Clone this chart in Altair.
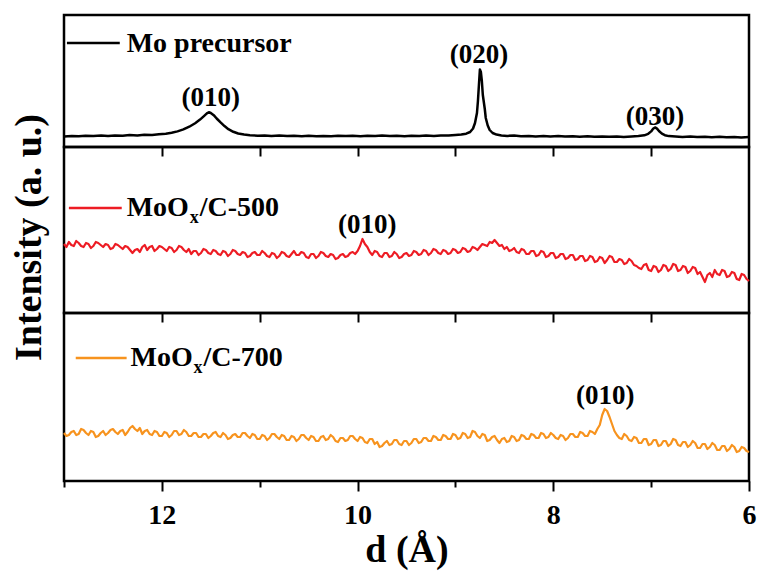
import altair as alt
import pandas as pd

FONT = "Liberation Serif"
X_DOMAIN = [13, 6]
PLOT_W = 685

# ---- Mo precursor (d in Å, intensity in a.u.) ----
MO_D = [13.00, 12.92, 12.85, 12.78, 12.70, 12.62, 12.55, 12.48, 12.40, 12.33,
        12.25, 12.18, 12.10, 12.03, 11.96, 11.90, 11.84, 11.78, 11.72, 11.66,
        11.61, 11.57, 11.54, 11.52, 11.50, 11.47, 11.44, 11.40, 11.36, 11.32,
        11.27, 11.22, 11.16, 11.10, 11.02, 10.95, 10.88, 10.80, 10.72, 10.65,
        10.57, 10.50, 10.42, 10.35, 10.27, 10.20, 10.12, 10.05, 9.97, 9.90,
        9.82, 9.75, 9.67, 9.60, 9.52, 9.45, 9.37, 9.30, 9.22, 9.15,
        9.07, 9.00, 8.94, 8.89, 8.85, 8.82, 8.80, 8.78, 8.77, 8.76,
        8.75, 8.74, 8.73, 8.72, 8.70, 8.69, 8.67, 8.65, 8.62, 8.58,
        8.53, 8.47, 8.40, 8.33, 8.25, 8.18, 8.10, 8.03, 7.95, 7.88,
        7.80, 7.73, 7.65, 7.58, 7.50, 7.43, 7.35, 7.28, 7.20, 7.13,
        7.07, 7.03, 7.00, 6.98, 6.96, 6.94, 6.92, 6.89, 6.86, 6.82,
        6.75, 6.68, 6.60, 6.53, 6.45, 6.38, 6.30, 6.23, 6.15, 6.08, 6.00]
MO_I = [10.6, 11.1, 10.7, 11.3, 10.9, 11.4, 11.0, 11.6, 11.2, 11.9,
        11.5, 12.2, 12.0, 12.7, 13.3, 14.2, 15.6, 17.6, 20.3, 23.8,
        27.4, 30.9, 33.6, 34.8, 34.0, 31.8, 28.5, 24.6, 20.9, 17.8,
        15.2, 13.5, 12.4, 11.8, 11.3, 11.6, 11.0, 11.4, 10.9, 11.3,
        10.8, 11.2, 10.7, 11.1, 10.8, 11.3, 10.9, 11.2, 10.8, 11.3,
        10.9, 11.4, 11.0, 11.3, 10.8, 11.2, 11.0, 11.5, 11.1, 11.6,
        11.4, 11.9, 12.4, 13.3, 15.0, 18.5, 24.0, 34.0, 46.0, 62.0,
        77.5, 75.0, 66.0, 52.0, 38.0, 29.0, 21.5, 17.0, 14.0, 12.4,
        11.6, 11.1, 11.4, 10.8, 11.1, 10.6, 11.0, 10.5, 10.9, 10.4,
        10.8, 10.3, 10.7, 10.2, 10.6, 10.2, 10.5, 10.1, 10.6, 10.9,
        11.7, 13.2, 15.6, 18.2, 19.6, 18.4, 16.0, 13.3, 11.8, 10.9,
        10.5, 10.0, 10.4, 9.9, 10.3, 9.8, 10.2, 9.7, 10.1, 9.6, 10.0]

# ---- sampling grid shared by the two MoOx/C patterns (d in Å) ----
GRID_D = [
    13.000, 12.975, 12.950, 12.925, 12.900, 12.875, 12.850, 12.825, 12.800, 12.775,
    12.750, 12.725, 12.700, 12.675, 12.650, 12.625, 12.600, 12.575, 12.550, 12.525,
    12.500, 12.475, 12.450, 12.425, 12.400, 12.375, 12.350, 12.325, 12.300, 12.275,
    12.250, 12.225, 12.200, 12.175, 12.150, 12.125, 12.100, 12.075, 12.050, 12.025,
    12.000, 11.975, 11.950, 11.925, 11.900, 11.875, 11.850, 11.825, 11.800, 11.775,
    11.750, 11.725, 11.700, 11.675, 11.650, 11.625, 11.600, 11.575, 11.550, 11.525,
    11.500, 11.475, 11.450, 11.425, 11.400, 11.375, 11.350, 11.325, 11.300, 11.275,
    11.250, 11.225, 11.200, 11.175, 11.150, 11.125, 11.100, 11.075, 11.050, 11.025,
    11.000, 10.975, 10.950, 10.925, 10.900, 10.875, 10.850, 10.825, 10.800, 10.775,
    10.750, 10.725, 10.700, 10.675, 10.650, 10.625, 10.600, 10.575, 10.550, 10.525,
    10.500, 10.475, 10.450, 10.425, 10.400, 10.375, 10.350, 10.325, 10.300, 10.275,
    10.250, 10.225, 10.200, 10.175, 10.150, 10.125, 10.100, 10.075, 10.050, 10.025,
    10.000, 9.975, 9.950, 9.925, 9.900, 9.875, 9.850, 9.825, 9.800, 9.775,
    9.750, 9.725, 9.700, 9.675, 9.650, 9.625, 9.600, 9.575, 9.550, 9.525,
    9.500, 9.475, 9.450, 9.425, 9.400, 9.375, 9.350, 9.325, 9.300, 9.275,
    9.250, 9.225, 9.200, 9.175, 9.150, 9.125, 9.100, 9.075, 9.050, 9.025,
    9.000, 8.975, 8.950, 8.925, 8.900, 8.875, 8.850, 8.825, 8.800, 8.775,
    8.750, 8.725, 8.700, 8.675, 8.650, 8.625, 8.600, 8.575, 8.550, 8.525,
    8.500, 8.475, 8.450, 8.425, 8.400, 8.375, 8.350, 8.325, 8.300, 8.275,
    8.250, 8.225, 8.200, 8.175, 8.150, 8.125, 8.100, 8.075, 8.050, 8.025,
    8.000, 7.975, 7.950, 7.925, 7.900, 7.875, 7.850, 7.825, 7.800, 7.775,
    7.750, 7.725, 7.700, 7.675, 7.650, 7.625, 7.600, 7.575, 7.550, 7.525,
    7.500, 7.475, 7.450, 7.425, 7.400, 7.375, 7.350, 7.325, 7.300, 7.275,
    7.250, 7.225, 7.200, 7.175, 7.150, 7.125, 7.100, 7.075, 7.050, 7.025,
    7.000, 6.975, 6.950, 6.925, 6.900, 6.875, 6.850, 6.825, 6.800, 6.775,
    6.750, 6.725, 6.700, 6.675, 6.650, 6.625, 6.600, 6.575, 6.550, 6.525,
    6.500, 6.475, 6.450, 6.425, 6.400, 6.375, 6.350, 6.325, 6.300, 6.275,
    6.250, 6.225, 6.200, 6.175, 6.150, 6.125, 6.100, 6.075, 6.050, 6.025,
    6.000]

# MoOx/C-500, intensity (a.u.) on GRID_D
C500_I = [
    69, 66, 71, 68, 67, 72, 70, 67, 66, 70,
    69, 65, 67, 71, 70, 68, 66, 69, 68, 64,
    65, 69, 68, 66, 64, 67, 66, 63, 60, 63,
    64, 61, 66, 68, 63, 66, 67, 62, 64, 67,
    66, 64, 62, 66, 65, 61, 63, 67, 66, 63,
    61, 64, 59, 62, 62, 58, 60, 64, 63, 60,
    59, 63, 62, 59, 58, 62, 61, 57, 59, 63,
    62, 59, 58, 61, 60, 56, 57, 60, 61, 58,
    58, 62, 60, 57, 56, 60, 59, 55, 57, 61,
    60, 57, 56, 59, 62, 58, 58, 61, 60, 56,
    55, 59, 59, 55, 57, 61, 60, 57, 56, 59,
    58, 54, 55, 58, 59, 56, 57, 60, 61, 59,
    62, 67, 74, 69, 66, 61, 58, 62, 61, 57,
    56, 60, 60, 56, 57, 61, 59, 55, 56, 59,
    60, 57, 58, 62, 61, 58, 59, 63, 62, 58,
    60, 64, 63, 60, 59, 63, 62, 59, 60, 64,
    63, 60, 61, 65, 64, 61, 62, 66, 65, 63,
    66, 69, 68, 67, 71, 70, 73, 70, 67, 68,
    64, 66, 62, 63, 65, 61, 60, 64, 63, 59,
    59, 62, 62, 57, 58, 62, 61, 56, 57, 60,
    60, 55, 56, 59, 59, 54, 55, 58, 58, 53,
    54, 57, 57, 52, 53, 57, 56, 51, 52, 56,
    55, 50, 53, 57, 56, 51, 51, 54, 53, 49,
    50, 54, 52, 48, 47, 45, 44, 48, 49, 43,
    42, 47, 46, 41, 43, 48, 47, 42, 44, 49,
    48, 42, 43, 47, 46, 40, 42, 46, 45, 39,
    41, 36, 31, 38, 40, 36, 43, 39, 38, 43,
    42, 36, 37, 41, 40, 34, 33, 39, 38, 34,
    32]

# MoOx/C-700, intensity (a.u.) on GRID_D
C700_I = [
    48, 45, 46, 49, 50, 46, 47, 52, 51, 48,
    46, 50, 49, 44, 45, 48, 50, 46, 48, 51,
    52, 49, 47, 50, 51, 46, 49, 53, 55, 52,
    50, 53, 47, 50, 51, 47, 46, 50, 49, 45,
    45, 49, 48, 44, 46, 50, 50, 46, 47, 51,
    49, 45, 45, 48, 48, 44, 44, 47, 47, 43,
    45, 48, 49, 45, 44, 48, 46, 42, 43, 46,
    47, 44, 44, 48, 48, 45, 43, 47, 46, 42,
    42, 46, 45, 41, 43, 47, 47, 44, 42, 46,
    45, 41, 41, 45, 44, 40, 42, 46, 46, 43,
    41, 45, 44, 40, 40, 44, 45, 41, 42, 46,
    44, 40, 39, 43, 43, 40, 41, 45, 45, 42,
    40, 44, 43, 39, 38, 42, 42, 37, 39, 34,
    35, 38, 40, 36, 37, 41, 41, 37, 36, 40,
    40, 36, 38, 42, 42, 38, 39, 43, 43, 40,
    40, 45, 44, 41, 41, 46, 45, 42, 42, 47,
    46, 42, 43, 48, 47, 43, 44, 50, 49, 45,
    43, 47, 46, 40, 41, 44, 45, 41, 38, 42,
    43, 39, 40, 45, 44, 40, 41, 46, 45, 42,
    42, 47, 46, 43, 43, 48, 47, 43, 44, 48,
    46, 43, 42, 46, 45, 41, 43, 47, 47, 44,
    44, 49, 48, 45, 45, 50, 49, 47, 52, 56,
    66, 72, 70, 64, 57, 50, 46, 43, 42, 47,
    45, 41, 40, 44, 43, 38, 38, 42, 42, 36,
    37, 41, 41, 35, 36, 40, 40, 35, 37, 42,
    41, 36, 35, 39, 39, 34, 36, 40, 38, 33,
    33, 37, 37, 32, 34, 38, 36, 31, 31, 35,
    35, 30, 32, 36, 34, 29, 30, 34, 33, 30,
    29]

# ---- reflection labels: text, d position, intensity position ----
PEAKS_MO = (["(010)", "(020)", "(030)"], [11.50, 8.76, 6.96], [49, 92, 30])
PEAKS_500 = (["(010)"], [9.90], [88])
PEAKS_700 = (["(010)"], [7.47], [85])

COLORS = {"mo": "#000000", "c500": "#ed1c24", "c700": "#f7931e"}


def x_enc(axis):
    return alt.X("d:Q", scale=alt.Scale(domain=X_DOMAIN, nice=False, zero=False), axis=axis)


def y_enc(ymax, axis):
    return alt.Y("I:Q", scale=alt.Scale(domain=[0, ymax], nice=False, zero=False), axis=axis)


inner_axis = alt.Axis(values=[12, 11, 10, 9, 8, 7], orient="bottom", labels=False,
                      domain=False, grid=False, title=None, tickSize=9,
                      tickWidth=2, tickColor="#000")

bottom_axis = alt.Axis(values=[13, 12, 11, 10, 9, 8, 7, 6], orient="bottom",
                       domain=False, grid=False, title="d (Å)",
                       tickSize={"condition": {"test": "datum.value % 2 === 0", "value": 10},
                                 "value": 6},
                       tickWidth=2, tickColor="#000",
                       labelExpr="datum.value % 2 === 0 ? datum.label : ''",
                       labelFont=FONT, labelFontSize=28, labelFontWeight="bold",
                       labelColor="#000", labelPadding=10, labelFlush=False,
                       labelOverlap=False, titleFont=FONT, titleFontSize=38,
                       titleFontWeight="bold", titleColor="#000", titlePadding=2)

intensity_axis = alt.Axis(title="Intensity (a. u.)", labels=False, ticks=False,
                          domain=False, grid=False, titleFont=FONT, titleFontSize=38,
                          titleFontWeight="bold", titleColor="#000", titleAngle=270,
                          titleX=-35, titleY=90, titleAlign="center",
                          titleBaseline="middle")


def panel(d, inten, color, line_w, height, ymax, xaxis, yaxis, peaks, legend):
    xe = x_enc(xaxis)
    ye = y_enc(ymax, yaxis)
    df = pd.DataFrame({"d": d, "I": inten})
    layers = [alt.Chart(df).mark_line(color=color, strokeWidth=line_w,
                                      strokeJoin="round").encode(x=xe, y=ye)]

    # legend key: short line then the sample name
    (d0, d1, ly), (td, ty), parts = legend
    key = pd.DataFrame({"d": [d0], "d2": [d1], "I": [ly]})
    layers.append(alt.Chart(key).mark_rule(color=color, strokeWidth=2.5)
                  .encode(x=xe, x2="d2:Q", y=ye))
    for text, size, dx, dy in parts:
        tdf = pd.DataFrame({"d": [td], "I": [ty], "t": [text]})
        layers.append(alt.Chart(tdf).mark_text(
            align="left", baseline="alphabetic", font=FONT, fontSize=size,
            fontWeight="bold", color="#000", dx=dx, dy=dy
        ).encode(x=xe, y=ye, text="t:N"))

    labels, pd_, pi = peaks
    pdf = pd.DataFrame({"d": pd_, "I": pi, "t": labels})
    layers.append(alt.Chart(pdf).mark_text(
        align="center", baseline="middle", font=FONT, fontSize=27,
        fontWeight="bold", color="#000"
    ).encode(x=xe, y=ye, text="t:N"))

    return alt.layer(*layers).properties(width=PLOT_W, height=height)


p1 = panel(MO_D, MO_I, COLORS["mo"], 2.5, 132, 132, inner_axis, None, PEAKS_MO,
           ((12.97, 12.43, 104), (12.36, 95), [("Mo precursor", 28, 0, 0)]))
p2 = panel(GRID_D, C500_I, COLORS["c500"], 2.2, 166, 166, inner_axis, intensity_axis,
           PEAKS_500,
           ((12.95, 12.41, 105), (12.36, 97),
            [("MoO", 28, 0, 0), ("x", 18, 63, 7), ("/C-500", 28, 73, 0)]))
p3 = panel(GRID_D, C700_I, COLORS["c700"], 2.2, 168, 168, bottom_axis, None, PEAKS_700,
           ((12.88, 12.36, 123), (12.32, 115),
            [("MoO", 28, 0, 0), ("x", 18, 63, 7), ("/C-700", 28, 73, 0)]))

chart = (
    alt.vconcat(p1, p2, p3, spacing=0, bounds="flush")
    .properties(padding={"left": 8, "top": 13, "right": 0, "bottom": 0},
                background="white")
    .configure_view(stroke="#000", strokeWidth=2.5)
)

chart.save("out.html", embed_options={"renderer": "svg", "actions": False})
